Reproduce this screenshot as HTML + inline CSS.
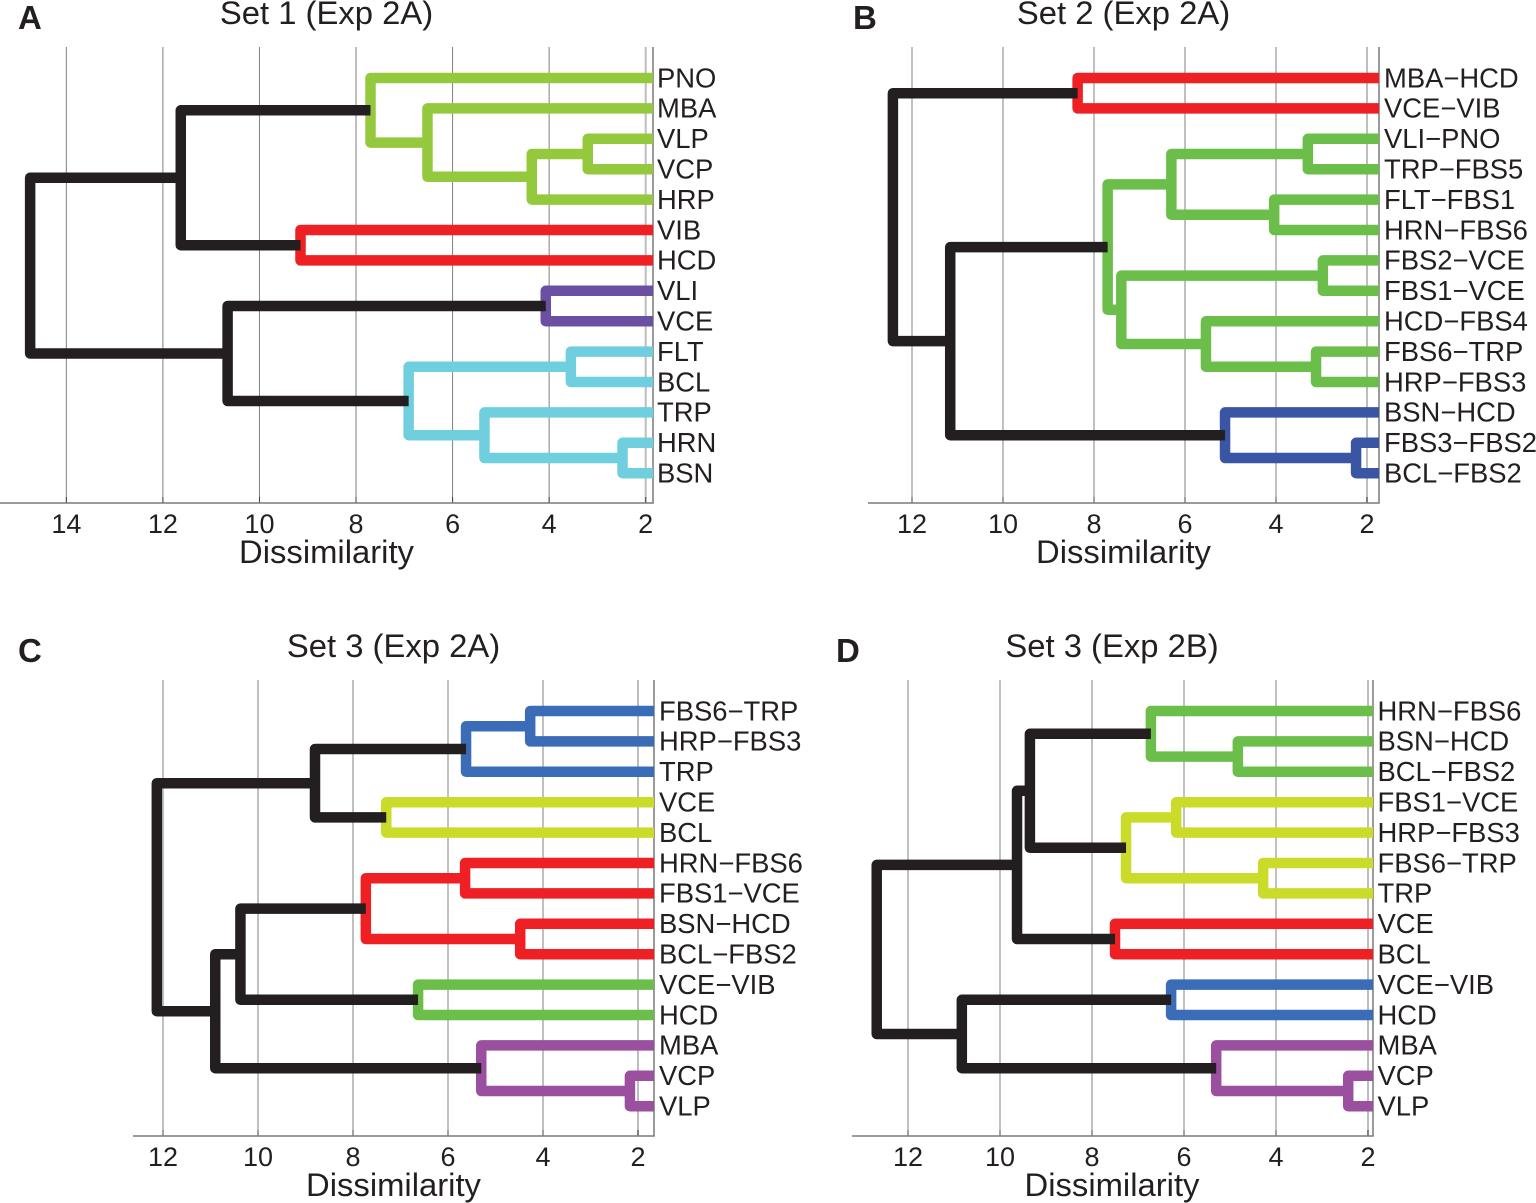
<!DOCTYPE html>
<html lang="en">
<head>
<meta charset="utf-8">
<title>Dissimilarity dendrograms</title>
<style>
html,body{margin:0;padding:0;background:#fff;}
svg{display:block;font-family:"Liberation Sans",sans-serif;fill:#231f20;}
</style>
</head>
<body>
<svg id="figure" width="1536" height="1203" viewBox="0 0 1536 1203" xmlns="http://www.w3.org/2000/svg">
  <g id="panel-a">
    <text x="18" y="29" font-size="33" font-weight="bold">A</text>
    <text x="326.5" y="24" font-size="32.8" text-anchor="middle">Set 1 (Exp 2A)</text>
    <text x="326.5" y="563" font-size="32.8" text-anchor="middle">Dissimilarity</text>
  </g>
  <g id="panel-b">
    <text x="853" y="29" font-size="33" font-weight="bold">B</text>
    <text x="1123.5" y="24" font-size="32.8" text-anchor="middle">Set 2 (Exp 2A)</text>
    <text x="1123.5" y="563" font-size="32.8" text-anchor="middle">Dissimilarity</text>
  </g>
  <g id="panel-c">
    <text x="18" y="662" font-size="33" font-weight="bold">C</text>
    <text x="393.5" y="657" font-size="32.8" text-anchor="middle">Set 3 (Exp 2A)</text>
    <text x="393.5" y="1196" font-size="32.8" text-anchor="middle">Dissimilarity</text>
  </g>
  <g id="panel-d">
    <text x="836" y="662" font-size="33" font-weight="bold">D</text>
    <text x="1112" y="657" font-size="32.8" text-anchor="middle">Set 3 (Exp 2B)</text>
    <text x="1112" y="1196" font-size="32.8" text-anchor="middle">Dissimilarity</text>
  </g>
</svg>
<script>
// Children: value >= 0 is a leaf index; value < 0 is merge number (-value - 1).
var aLabels = ["PNO","MBA","VLP","VCP","HRP","VIB","HCD","VLI","VCE","FLT","BCL","TRP","HRN","BSN"];
var aTicks = [14,12,10,8,6,4,2];
var aHeights = [3.2,4.36,6.52,7.7,9.15,11.63,4.07,3.55,2.48,5.34,6.91,10.66,14.75];
var aLeft = [2,-1,1,0,5,-4,7,9,12,11,-8,-7,-6];
var aRight = [3,4,-2,-3,6,-5,8,10,13,-9,-10,-11,-12];
var aColors = ["#95c93d","#95c93d","#95c93d","#95c93d","#ee2024","#231f20","#6a4fa3","#6fcfdf","#6fcfdf","#6fcfdf","#6fcfdf","#231f20","#231f20"];

var bLabels = ["MBA\u2212HCD","VCE\u2212VIB","VLI\u2212PNO","TRP\u2212FBS5","FLT\u2212FBS1","HRN\u2212FBS6","FBS2\u2212VCE","FBS1\u2212VCE","HCD\u2212FBS4","FBS6\u2212TRP","HRP\u2212FBS3","BSN\u2212HCD","FBS3\u2212FBS2","BCL\u2212FBS2"];
var bTicks = [12,10,8,6,4,2];
var bHeights = [8.36,3.3,4.04,6.3,2.97,3.12,5.54,7.4,7.7,2.24,5.12,11.16,12.42];
var bLeft = [0,2,4,-2,6,9,8,-5,-4,12,11,-9,-1];
var bRight = [1,3,5,-3,7,10,-6,-7,-8,13,-10,-11,-12];
var bColors = ["#ee2024","#6cbe4b","#6cbe4b","#6cbe4b","#6cbe4b","#6cbe4b","#6cbe4b","#6cbe4b","#6cbe4b","#3b55a5","#3b55a5","#231f20","#231f20"];

var cLabels = ["FBS6\u2212TRP","HRP\u2212FBS3","TRP","VCE","BCL","HRN\u2212FBS6","FBS1\u2212VCE","BSN\u2212HCD","BCL\u2212FBS2","VCE\u2212VIB","HCD","MBA","VCP","VLP"];
var cTicks = [12,10,8,6,4,2];
var cHeights = [4.27,5.62,7.3,8.8,5.64,4.48,7.73,6.63,10.37,2.17,5.3,10.9,12.13];
var cLeft = [0,-1,3,-2,5,7,-5,9,-7,12,11,-9,-4];
var cRight = [1,2,4,-3,6,8,-6,10,-8,13,-10,-11,-12];
var cColors = ["#3a6cb7","#3a6cb7","#cbdb2a","#231f20","#ee2024","#ee2024","#ee2024","#6cbe4b","#231f20","#9a4f9f","#9a4f9f","#231f20","#231f20"];

var dLabels = ["HRN\u2212FBS6","BSN\u2212HCD","BCL\u2212FBS2","FBS1\u2212VCE","HRP\u2212FBS3","FBS6\u2212TRP","TRP","VCE","BCL","VCE\u2212VIB","HCD","MBA","VCP","VLP"];
var dTicks = [12,10,8,6,4,2];
var dHeights = [4.83,6.72,6.17,4.28,7.26,9.35,7.5,9.63,6.28,2.43,5.3,10.83,12.68];
var dLeft = [1,0,3,5,-3,-2,7,-6,9,12,11,-9,-8];
var dRight = [2,-1,4,6,-4,-5,8,-7,10,13,-10,-11,-12];
var dColors = ["#6cbe4b","#6cbe4b","#cbdb2a","#cbdb2a","#cbdb2a","#231f20","#ee2024","#231f20","#3a6cb7","#9a4f9f","#9a4f9f","#231f20","#231f20"];

var SVGNS = "http://www.w3.org/2000/svg";
var BLACK = "#231f20";

function makeEl(parent, tag, attrs) {
  var el = document.createElementNS(SVGNS, tag);
  for (var k in attrs) { el.setAttribute(k, attrs[k]); }
  parent.appendChild(el);
  return el;
}

function drawPanel(id, labels, ticks, heights, left, right, colors, frame) {
  var g = document.getElementById(id);
  function xScale(d) { return frame.x2 + (2 - d) * frame.unit; }
  function yScale(i) { return frame.y0 + i * frame.step; }

  // grid lines and ticks
  ticks.forEach(function (t) {
    var px = xScale(t);
    var grid = makeEl(g, "line", {x1: px, x2: px, y1: frame.top, y2: frame.bottom, stroke: t === 2 ? "#bdbdbd" : "#808080", "stroke-width": t === 2 ? 2 : 1});
    
    
    var tick = makeEl(g, "line", {x1: px, x2: px, y1: frame.bottom - 6, y2: frame.bottom, stroke: "#444", "stroke-width": 1});
    
    
    var lab = makeEl(g, "text", {x: px, y: frame.bottom + 30, "font-size": 27, "text-anchor": "middle"});
    lab.textContent = String(t);
    
    
  });

  // axes
  var xAxis = makeEl(g, "line", {x1: frame.left, x2: frame.right + 0.75, y1: frame.bottom, y2: frame.bottom, stroke: "#7a7a7a", "stroke-width": 1.5});
  
  
  var yAxis = makeEl(g, "line", {x1: frame.right, x2: frame.right, y1: frame.top, y2: frame.bottom, stroke: "#7a7a7a", "stroke-width": 1.5});
  
  

  // node positions
  var nodeY = [];
  function childX(c) { return c >= 0 ? frame.right : xScale(heights[-c - 1]); }
  function childY(c) { return c >= 0 ? yScale(c) : nodeY[-c - 1]; }
  heights.forEach(function (h, k) {
    nodeY[k] = (childY(left[k]) + childY(right[k])) / 2;
  });

  // coloured clusters first, black links on top
  var order = heights.map(function (h, k) { return k; });
  order.sort(function (p, q) {
    return (colors[p] === BLACK ? 1 : 0) - (colors[q] === BLACK ? 1 : 0) || p - q;
  });
  order.forEach(function (k) {
    var px = xScale(heights[k]);
    var d = "M" + childX(left[k]) + "," + childY(left[k]) +
            "H" + px + "V" + childY(right[k]) + "H" + childX(right[k]);
    var link = makeEl(g, "path", {d: d, fill: "none", stroke: colors[k], "stroke-width": 10.5, "stroke-linejoin": "round", "stroke-linecap": "butt"});
    
    
  });

  // leaf labels
  labels.forEach(function (name, i) {
    var t = makeEl(g, "text", {x: frame.right + frame.labelGap, y: yScale(i) + 9.3, "font-size": 27.4});
    t.textContent = name;
    
    
  });
}

drawPanel("panel-a", aLabels, aTicks, aHeights, aLeft, aRight, aColors,
  {x2: 645.7, unit: 48.28, y0: 78, step: 30.4, top: 47, bottom: 503, left: 0, right: 653, labelGap: 4});
drawPanel("panel-b", bLabels, bTicks, bHeights, bLeft, bRight, bColors,
  {x2: 1367, unit: 45.5, y0: 78, step: 30.4, top: 47, bottom: 503, left: 868, right: 1379, labelGap: 5});
drawPanel("panel-c", cLabels, cTicks, cHeights, cLeft, cRight, cColors,
  {x2: 638, unit: 47.5, y0: 711, step: 30.4, top: 680, bottom: 1136, left: 133, right: 654, labelGap: 5});
drawPanel("panel-d", dLabels, dTicks, dHeights, dLeft, dRight, dColors,
  {x2: 1368, unit: 46, y0: 711, step: 30.4, top: 680, bottom: 1136, left: 852, right: 1373, labelGap: 4.5});
</script>
</body>
</html>
